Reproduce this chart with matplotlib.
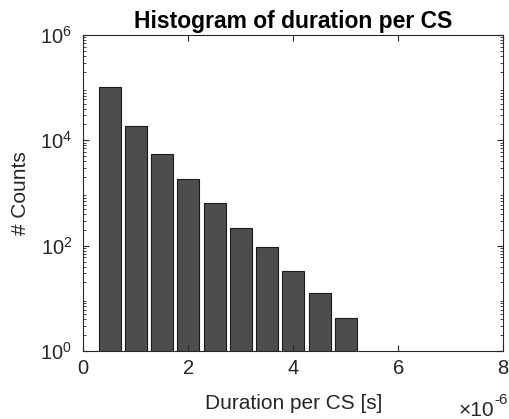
import matplotlib
matplotlib.use("Agg")
import matplotlib.pyplot as plt
from matplotlib.ticker import ScalarFormatter, LogLocator, NullFormatter

plt.rcParams['font.family'] = ['Liberation Sans', 'DejaVu Sans']
plt.rcParams['mathtext.default'] = 'regular'

# Data (bin centers in seconds, counts)
bin_centers = [0.5e-6, 1.0e-6, 1.5e-6, 2.0e-6, 2.5e-6, 3.0e-6, 3.5e-6, 4.0e-6, 4.5e-6, 5.0e-6]
counts = [104000, 19000, 5600, 1860, 645, 213, 95, 33, 12.4, 4.2]
bin_width = 0.42e-6
x_ticks = [0, 2e-6, 4e-6, 6e-6, 8e-6]
y_ticks = [1, 1e2, 1e4, 1e6]

fig = plt.figure(figsize=(5.09, 4.19), dpi=100)
ax = fig.add_axes([0.1637, 0.1623, 0.9888 - 0.1637, 0.9165 - 0.1623])

ax.bar(bin_centers, counts, width=bin_width, color='#4d4d4d', edgecolor='#1a1a1a', linewidth=0.8, bottom=0)
ax.set_yscale('log')
ax.set_ylim(1, 1e6)
ax.set_xlim(0, 8e-6)
ax.set_xticks(x_ticks)
ax.set_yticks(y_ticks)
ax.yaxis.set_minor_locator(LogLocator(base=10, subs=range(2, 10), numticks=20))
ax.yaxis.set_minor_formatter(NullFormatter())

fmt = ScalarFormatter(useMathText=True)
fmt.set_powerlimits((0, 0))
ax.xaxis.set_major_formatter(fmt)
ax.xaxis.get_offset_text().set_visible(False)

axis_col = '#262626'
for s in ax.spines.values():
    s.set_color(axis_col)
    s.set_linewidth(0.8)
ax.tick_params(which='both', direction='in', top=True, right=True, colors=axis_col, labelsize=14.5)
ax.tick_params(which='major', length=4)
ax.tick_params(which='minor', length=2)
ax.tick_params(axis='x', pad=6)
ax.tick_params(axis='y', pad=8)

# x-axis exponent label (MATLAB style)
fig.text(494 / 509, 1 - 416 / 419, '\u00d710', ha='right', va='baseline',
         fontsize=15, color=axis_col)
fig.text(494 / 509, 1 - 404 / 419, '-6', ha='left', va='baseline',
         fontsize=11, color=axis_col)

ax.set_xlabel('Duration per CS [s]', fontsize=15, color=axis_col, labelpad=11)
ax.set_ylabel('# Counts', fontsize=15, color=axis_col, labelpad=7)
ax.set_title('Histogram of duration per CS', fontsize=16.5, fontweight='bold', pad=5)

fig.savefig('out.png', dpi=100)
